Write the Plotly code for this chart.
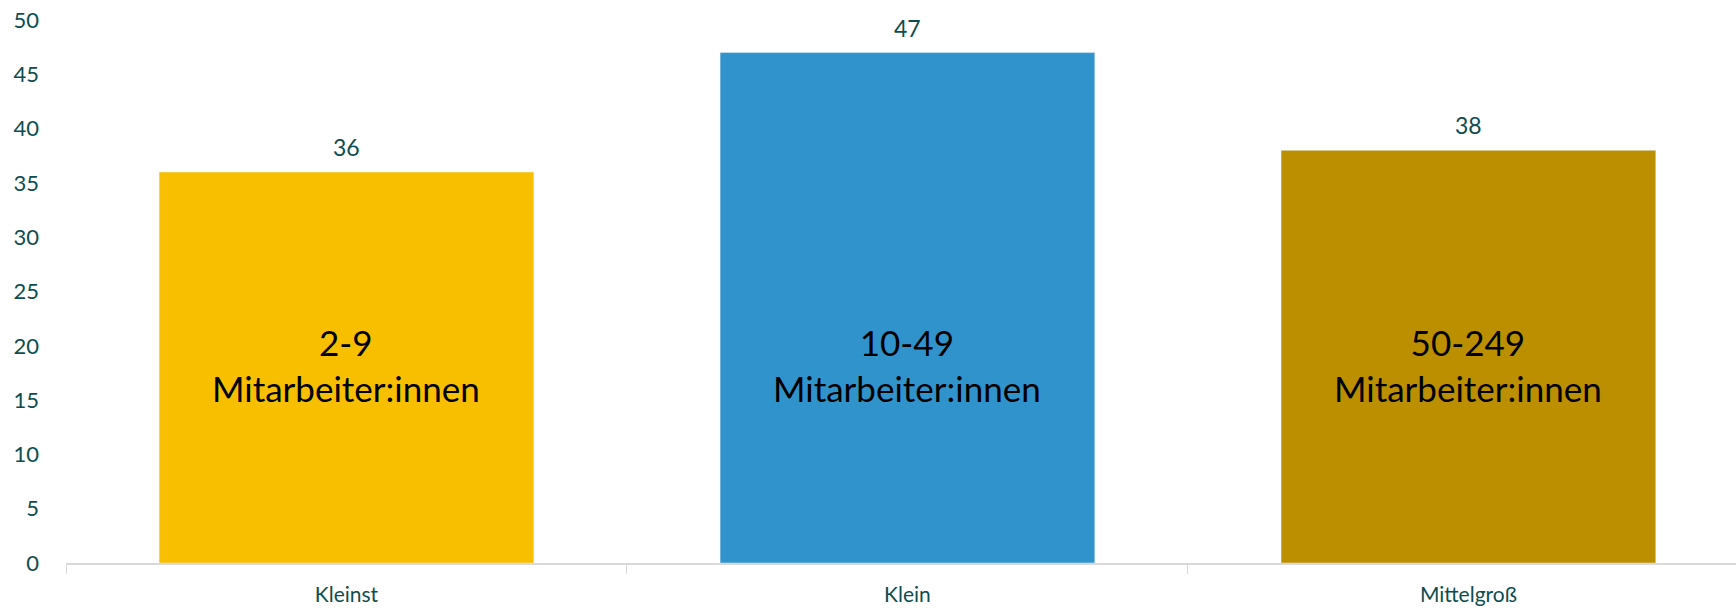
import plotly.graph_objects as go

categories = ["Kleinst", "Klein", "Mittelgroß"]
values = [36, 47, 38]
inner_labels = ["2-9<br>Mitarbeiter:innen", "10-49<br>Mitarbeiter:innen", "50-249<br>Mitarbeiter:innen"]
colors = ["#F7BF00", "#3193CC", "#BB8F00"]
y_ticks = list(range(0, 51, 5))

TEAL = "#0E4D4F"
FONT = "Lato, Carlito, Calibri, sans-serif"

fig = go.Figure()
fig.add_trace(go.Bar(
    x=categories, y=values, marker_color=colors, width=0.668,
    hoverinfo="skip",
))

annotations = []
for c, v, t in zip(categories, values, inner_labels):
    annotations.append(dict(x=c, y=v, text=str(v), showarrow=False, yanchor="bottom",
                            yshift=9, font=dict(family=FONT, size=23, color=TEAL)))
    annotations.append(dict(x=c, y=18.2, text=t, showarrow=False, yanchor="middle",
                            font=dict(family=FONT, size=35, color="#000000")))

fig.update_layout(
    width=1736, height=608,
    margin=dict(l=66, r=0, t=20, b=45),
    paper_bgcolor="white", plot_bgcolor="white",
    showlegend=False,
    annotations=annotations,
    xaxis=dict(
        range=[-0.5, 2.477], showline=True, linecolor="#D9D9D9", linewidth=1.5,
        ticks="outside", tickson="boundaries", ticklen=9, tickcolor="#D9D9D9",
        ticklabelstandoff=12, automargin=False, ticklabeloverflow="allow",
        tickfont=dict(family=FONT, size=21, color=TEAL), showgrid=False,
    ),
    yaxis=dict(
        range=[0, 50], tickvals=y_ticks, showgrid=False, zeroline=False,
        showline=False, ticks="", ticklen=0, automargin=False,
        ticklabelstandoff=26, ticklabeloverflow="allow",
        tickfont=dict(family=FONT, size=22, color=TEAL),
    ),
)

fig.write_html(
    "out.html",
    config={"displayModeBar": False},
    post_script="document.body.style.margin='0';document.body.style.padding='0';",
)
